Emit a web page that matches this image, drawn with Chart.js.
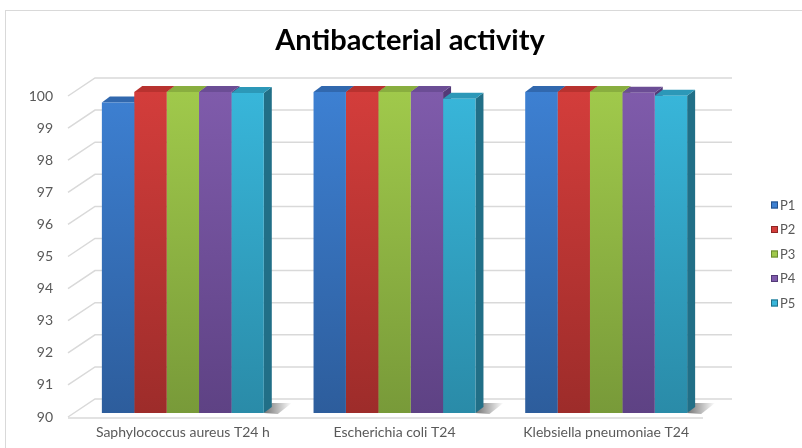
<!DOCTYPE html>
<html>
<head>
<meta charset="utf-8">
<script src="https://cdn.jsdelivr.net/npm/chart.js@4.4.1/dist/chart.umd.min.js"></script>
<style>
  html, body { margin: 0; padding: 0; background: #fff; }
  #wrap { width: 802px; height: 448px; }
</style>
</head>
<body>
<div id="wrap"><canvas id="chart" width="802" height="448"></canvas></div>
<script>
const categories = ["Saphylococcus aureus T24 h", "Escherichia coli T24", "Klebsiella pneumoniae T24"];
const seriesNames = ["P1", "P2", "P3", "P4", "P5"];
const p1 = [99.67, 100, 100];
const p2 = [100, 100, 100];
const p3 = [100, 100, 100];
const p4 = [100, 100, 99.98];
const p5 = [99.97, 99.79, 99.88];
const yTicks = [90, 91, 92, 93, 94, 95, 96, 97, 98, 99, 100];

// front top, front bottom, side, top face
const palette = [
  ["#3d80d2", "#2d5d9c", "#24508a", "#3168ae"],
  ["#d33d3b", "#9d2c2a", "#8e2624", "#b8322f"],
  ["#a0c94b", "#789a39", "#6b8a31", "#89ae3f"],
  ["#7f5bab", "#5e4284", "#533a77", "#6b4d95"],
  ["#38b6da", "#2a8ba8", "#216f87", "#2c98b8"]
];
const DX = 8, DY = 6;

function frontFill(i) {
  return function (ctx) {
    const area = ctx.chart.chartArea;
    if (!area) return palette[i][0];
    const g = ctx.chart.ctx.createLinearGradient(0, area.top, 0, area.bottom);
    g.addColorStop(0, palette[i][0]);
    g.addColorStop(1, palette[i][1]);
    return g;
  };
}

const allSeries = [p1, p2, p3, p4, p5];
const datasets = allSeries.map((vals, i) => ({
  label: seriesNames[i],
  data: vals,
  base: yTicks[0],
  backgroundColor: frontFill(i),
  borderWidth: 0,
  barPercentage: 1,
  categoryPercentage: 0.765
}));

const fakeThreeD = {
  id: "fakeThreeD",
  beforeDraw(chart) {
    const ctx = chart.ctx;
    ctx.save();
    ctx.strokeStyle = "#d9d9d9";
    ctx.lineWidth = 1;
    ctx.strokeRect(5.5, 10.5, 1000, 1000);
    ctx.restore();
  },
  beforeDatasetsDraw(chart) {
    const ctx = chart.ctx;
    const y = chart.scales.y;
    ctx.save();
    // back wall grid lines
    ctx.strokeStyle = "#d9d9d9";
    ctx.lineWidth = 1.5;
    yTicks.forEach(v => {
      const py = y.getPixelForValue(v);
      ctx.beginPath();
      ctx.moveTo(68, py + 4);
      ctx.lineTo(95, py - 14);
      ctx.lineTo(732, py - 14);
      ctx.stroke();
    });
    const base = y.getPixelForValue(yTicks[0]);
    ctx.beginPath();
    ctx.moveTo(68, base + 5);
    ctx.lineTo(703, base + 5);
    ctx.stroke();

    const metas = chart.data.datasets.map((d, i) => chart.getDatasetMeta(i));
    // shadows to the right of each group
    categories.forEach((c, j) => {
      const last = metas[metas.length - 1].data[j];
      const xr = last.x + last.width / 2;
      const b = last.base;
      const g = ctx.createLinearGradient(xr, 0, xr + DX + 20, 0);
      g.addColorStop(0, "rgba(0,0,0,0.55)");
      g.addColorStop(1, "rgba(0,0,0,0)");
      ctx.fillStyle = g;
      ctx.beginPath();
      ctx.moveTo(xr, b);
      ctx.lineTo(xr + DX, b - DY - 4);
      ctx.lineTo(xr + DX + 20, b - DY - 4);
      ctx.lineTo(xr + 14, b + 1);
      ctx.closePath();
      ctx.fill();
    });
    // sides and tops, left to right
    categories.forEach((c, j) => {
      metas.forEach((meta, i) => {
        const bar = meta.data[j];
        const x0 = bar.x - bar.width / 2;
        const x1 = bar.x + bar.width / 2;
        const top = bar.y, b = bar.base;
        ctx.fillStyle = palette[i][2];
        ctx.beginPath();
        ctx.moveTo(x1, top);
        ctx.lineTo(x1 + DX, top - DY);
        ctx.lineTo(x1 + DX, b - DY);
        ctx.lineTo(x1, b);
        ctx.closePath();
        ctx.fill();
        ctx.fillStyle = palette[i][3];
        ctx.beginPath();
        ctx.moveTo(x0, top);
        ctx.lineTo(x1, top);
        ctx.lineTo(x1 + DX, top - DY);
        ctx.lineTo(x0 + DX, top - DY);
        ctx.closePath();
        ctx.fill();
      });
    });
    ctx.restore();
  },
  afterDraw(chart) {
    const ctx = chart.ctx;
    ctx.save();
    ctx.fillStyle = "#000";
    ctx.font = "bold 29px Lato";
    ctx.textAlign = "center";
    ctx.textBaseline = "middle";
    ctx.fillText("Antibacterial activity", 410, 41);
    // legend
    ctx.font = "13px Lato";
    ctx.textAlign = "left";
    chart.data.datasets.forEach((d, i) => {
      const cy = 205 + i * 24.5;
      ctx.fillStyle = palette[i][0];
      ctx.fillRect(771, cy - 3.5, 7, 7);
      ctx.strokeStyle = palette[i][2];
      ctx.lineWidth = 1;
      ctx.strokeRect(771.5, cy - 3, 6, 6);
      ctx.fillStyle = "#595959";
      ctx.fillText(d.label, 780, cy + 0.5);
    });
    ctx.restore();
  }
};

new Chart(document.getElementById("chart").getContext("2d"), {
  type: "bar",
  data: { labels: categories, datasets: datasets },
  options: {
    responsive: false,
    animation: false,
    layout: { padding: { top: 92, right: 90, bottom: 7, left: 0 } },
    plugins: {
      legend: { display: false },
      title: { display: false },
      tooltip: { enabled: false }
    },
    scales: {
      x: {
        afterFit(scale) { scale.height = 28; },
        grid: { display: false, drawTicks: false },
        border: { display: false },
        ticks: { color: "#595959", font: { family: "Lato", size: 14 }, padding: 11, maxRotation: 0 }
      },
      y: {
        min: yTicks[0],
        max: yTicks[yTicks.length - 1],
        afterFit(scale) { scale.width = 77; },
        afterBuildTicks(scale) { scale.ticks = yTicks.map(v => ({ value: v })); },
        grid: { display: false, drawTicks: false },
        border: { display: false },
        ticks: { color: "#595959", font: { family: "Lato", size: 14 }, padding: 24, labelOffset: 4 }
      }
    }
  },
  plugins: [fakeThreeD]
});
</script>
</body>
</html>
